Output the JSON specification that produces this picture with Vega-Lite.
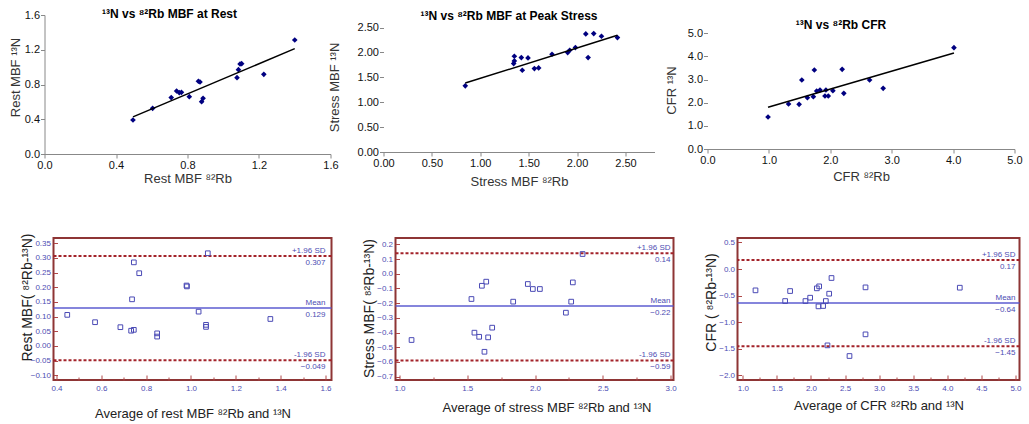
{
  "$schema": "https://vega.github.io/schema/vega-lite/v6.json",
  "background": "white",
  "padding": {"left": 8.5, "top": 8, "right": 5, "bottom": 5},
  "spacing": 223,
  "bounds": "flush",
  "config": {
    "font": "Liberation Sans",
    "view": {"stroke": null},
    "axis": {"grid": false, "labelFlush": false, "labelOverlap": false, "tickCount": 40, "labelFont": "Liberation Sans", "titleFont": "Liberation Sans", "labelFontSize": 11, "titleFontSize": 13, "titleFontWeight": "normal", "labelColor": "#111111", "titleColor": "#333333", "domainColor": "#888888", "tickColor": "#888888", "tickSize": 4, "labelPadding": 1, "titlePadding": 2},
    "title": {"font": "Liberation Sans", "fontSize": 12, "fontWeight": "bold", "color": "#000000", "anchor": "middle"},
    "text": {"font": "Liberation Sans"}
  },
  "datasets": {
    "rest": [{"rb":0.495,"n":0.391},{"rb":0.605,"n":0.526},{"rb":0.709,"n":0.649},{"rb":0.739,"n":0.725},{"rb":0.754,"n":0.706},{"rb":0.766,"n":0.71},{"rb":0.81,"n":0.66},{"rb":0.861,"n":0.837},{"rb":0.87,"n":0.829},{"rb":0.879,"n":0.602},{"rb":0.887,"n":0.641},{"rb":1.077,"n":0.879},{"rb":1.085,"n":0.971},{"rb":1.094,"n":1.036},{"rb":1.103,"n":1.04},{"rb":1.227,"n":0.917},{"rb":1.4,"n":1.312}],
    "restFit": [{"rb":0.495,"n":0.427},{"rb":1.4,"n":1.213}],
    "stress": [{"rb":0.845,"n":1.33},{"rb":1.352,"n":1.924},{"rb":1.352,"n":1.83},{"rb":1.345,"n":1.776},{"rb":1.424,"n":1.897},{"rb":1.493,"n":1.89},{"rb":1.434,"n":1.642},{"rb":1.559,"n":1.676},{"rb":1.603,"n":1.689},{"rb":1.741,"n":1.964},{"rb":1.903,"n":1.997},{"rb":1.924,"n":2.044},{"rb":1.983,"n":2.098},{"rb":2.09,"n":2.373},{"rb":2.114,"n":1.897},{"rb":2.172,"n":2.379},{"rb":2.252,"n":2.326},{"rb":2.417,"n":2.299}],
    "stressFit": [{"rb":0.845,"n":1.385},{"rb":2.417,"n":2.345}],
    "cfr": [{"rb":0.986,"n":1.383},{"rb":1.32,"n":1.945},{"rb":1.492,"n":1.931},{"rb":1.536,"n":2.983},{"rb":1.627,"n":2.219},{"rb":1.724,"n":2.262},{"rb":1.74,"n":3.415},{"rb":1.778,"n":2.507},{"rb":1.832,"n":2.55},{"rb":1.913,"n":2.291},{"rb":1.929,"n":2.55},{"rb":1.967,"n":2.291},{"rb":2.042,"n":2.522},{"rb":2.193,"n":3.444},{"rb":2.22,"n":2.406},{"rb":2.64,"n":2.983},{"rb":2.861,"n":2.622},{"rb":4.014,"n":4.38}],
    "cfrFit": [{"rb":0.986,"n":1.802},{"rb":4.014,"n":4.151}],
    "restBA": [{"avg":0.448,"diff":0.106},{"avg":0.572,"diff":0.081},{"avg":0.685,"diff":0.064},{"avg":0.733,"diff":0.052},{"avg":0.745,"diff":0.055},{"avg":0.737,"diff":0.159},{"avg":0.745,"diff":0.285},{"avg":0.769,"diff":0.248},{"avg":0.849,"diff":0.043},{"avg":0.849,"diff":0.032},{"avg":0.98,"diff":0.206},{"avg":0.982,"diff":0.203},{"avg":1.034,"diff":0.117},{"avg":1.067,"diff":0.072},{"avg":1.067,"diff":0.065},{"avg":1.075,"diff":0.316},{"avg":1.354,"diff":0.092}],
    "stressBA": [{"avg":1.089,"diff":-0.451},{"avg":1.531,"diff":-0.172},{"avg":1.553,"diff":-0.401},{"avg":1.588,"diff":-0.429},{"avg":1.608,"diff":-0.082},{"avg":1.627,"diff":-0.531},{"avg":1.64,"diff":-0.054},{"avg":1.654,"diff":-0.433},{"avg":1.684,"diff":-0.367},{"avg":1.839,"diff":-0.19},{"avg":1.947,"diff":-0.07},{"avg":1.984,"diff":-0.104},{"avg":2.036,"diff":-0.104},{"avg":2.228,"diff":-0.265},{"avg":2.267,"diff":-0.19},{"avg":2.279,"diff":-0.059},{"avg":2.351,"diff":0.134}],
    "cfrBA": [{"avg":1.186,"diff":-0.401},{"avg":1.621,"diff":-0.602},{"avg":1.694,"diff":-0.414},{"avg":1.919,"diff":-0.602},{"avg":1.988,"diff":-0.539},{"avg":2.086,"diff":-0.363},{"avg":2.12,"diff":-0.326},{"avg":2.11,"diff":-0.702},{"avg":2.178,"diff":-0.695},{"avg":2.218,"diff":-0.602},{"avg":2.267,"diff":-0.464},{"avg":2.301,"diff":-0.169},{"avg":2.242,"diff":-1.435},{"avg":2.565,"diff":-1.635},{"avg":2.8,"diff":-0.345},{"avg":2.8,"diff":-1.228},{"avg":4.183,"diff":-0.351}],
    "restStats": [{"stat":"+1.96 SD","value":0.307},{"stat":"Mean","value":0.129},{"stat":"-1.96 SD","value":-0.049}],
    "stressStats": [{"stat":"+1.96 SD","value":0.14},{"stat":"Mean","value":-0.22},{"stat":"-1.96 SD","value":-0.59}],
    "cfrStats": [{"stat":"+1.96 SD","value":0.17},{"stat":"Mean","value":-0.64},{"stat":"-1.96 SD","value":-1.45}]
  },
  "vconcat": [
    {
      "hconcat": [
        {
          "width": 277, "height": 139,
          "title": {"text": "¹³N vs ⁸²Rb MBF at Rest", "dx": -22.5, "offset": -12},
          "layer": [
            {"data": {"name": "rest"}, "mark": {"type": "point", "shape": "diamond", "filled": true, "color": "#000080", "size": 32, "opacity": 1},
             "encoding": {
               "x": {"field": "rb", "type": "quantitative", "scale": {"domain": [0, 1.6], "range": [-9, 277], "nice": false, "zero": false}, "axis": {"title": "Rest MBF ⁸²Rb", "values": [0, 0.4, 0.8, 1.2, 1.6], "format": ".1f", "tickCount": 40, "labelOverlap": false, "titlePadding": 2, "titleX": 134}},
               "y": {"field": "n", "type": "quantitative", "scale": {"domain": [0, 1.6], "nice": false, "zero": false}, "axis": {"title": "Rest MBF ¹³N", "values": [0, 0.4, 0.8, 1.2, 1.6], "format": ".1f", "tickCount": 40, "labelOverlap": false, "offset": 9, "titleX": -22.5, "titleY": 62}}}},
            {"data": {"name": "restFit"}, "mark": {"type": "line", "color": "#000000", "strokeWidth": 1.5},
             "encoding": {"x": {"field": "rb", "type": "quantitative"}, "y": {"field": "n", "type": "quantitative"}}},
            {"mark": {"type": "text", "text": "y = 0.8677x - 0.0021", "fontSize": 10, "color": "#404040"}, "encoding": {"x": {"datum": 0.537}, "y": {"datum": 1.347}}},
            {"mark": {"type": "text", "text": "R² = 0.8426", "fontSize": 10, "color": "#404040"}, "encoding": {"x": {"datum": 0.54}, "y": {"datum": 1.163}}}
          ]
        },
        {
          "width": 271, "height": 137,
          "title": {"text": "¹³N vs ⁸²Rb MBF at Peak Stress", "dx": -10, "offset": -8},
          "layer": [
            {"data": {"name": "stress"}, "mark": {"type": "point", "shape": "diamond", "filled": true, "color": "#000080", "size": 32, "opacity": 1},
             "encoding": {
               "x": {"field": "rb", "type": "quantitative", "scale": {"domain": [0, 2.8], "nice": false, "zero": false}, "axis": {"title": "Stress MBF ⁸²Rb", "values": [0, 0.5, 1, 1.5, 2, 2.5], "format": ".2f", "tickCount": 40, "labelOverlap": false, "titlePadding": 7}},
               "y": {"field": "n", "type": "quantitative", "scale": {"domain": [0, 2.753], "nice": false, "zero": false}, "axis": {"title": "Stress MBF ¹³N", "values": [0, 0.5, 1, 1.5, 2, 2.5], "format": ".2f", "tickCount": 40, "labelOverlap": false, "domain": false, "titleX": -42, "titleY": 72}}}},
            {"mark": {"type": "rule", "color": "#888888", "strokeWidth": 1}, "encoding": {"x": {"datum": 0}, "y": {"datum": 0}, "y2": {"datum": 2.5}}},
            {"data": {"name": "stressFit"}, "mark": {"type": "line", "color": "#000000", "strokeWidth": 1.5},
             "encoding": {"x": {"field": "rb", "type": "quantitative"}, "y": {"field": "n", "type": "quantitative"}}},
            {"mark": {"type": "text", "text": "y = 0.6105x + 0.8689", "fontSize": 10, "color": "#404040"}, "encoding": {"x": {"datum": 2.135}, "y": {"datum": 0.892}}},
            {"mark": {"type": "text", "text": "R² = 0.7606", "fontSize": 10, "color": "#404040"}, "encoding": {"x": {"datum": 2.143}, "y": {"datum": 0.516}}}
          ]
        },
        {
          "width": 307, "height": 134,
          "title": {"text": "¹³N vs ⁸²Rb CFR", "dx": -20, "offset": -17},
          "layer": [
            {"data": {"name": "cfr"}, "mark": {"type": "point", "shape": "diamond", "filled": true, "color": "#000080", "size": 32, "opacity": 1},
             "encoding": {
               "x": {"field": "rb", "type": "quantitative", "scale": {"domain": [0, 5], "nice": false, "zero": false}, "axis": {"title": "CFR ⁸²Rb", "values": [0, 1, 2, 3, 4, 5], "format": ".1f", "tickCount": 40, "labelOverlap": false, "titlePadding": 5}},
               "y": {"field": "n", "type": "quantitative", "scale": {"domain": [0, 5.791], "nice": false, "zero": false}, "axis": {"title": "CFR ¹³N", "values": [0, 1, 2, 3, 4, 5], "format": ".1f", "tickCount": 40, "labelOverlap": false, "domain": false, "titleX": -29, "titleY": 75}}}},
            {"mark": {"type": "rule", "color": "#888888", "strokeWidth": 1}, "encoding": {"x": {"datum": 0}, "y": {"datum": 0}, "y2": {"datum": 5}}},
            {"data": {"name": "cfrFit"}, "mark": {"type": "line", "color": "#000000", "strokeWidth": 1.5},
             "encoding": {"x": {"field": "rb", "type": "quantitative"}, "y": {"field": "n", "type": "quantitative"}}},
            {"mark": {"type": "text", "text": "y = 0.7756x + 1.0372", "fontSize": 10, "color": "#404040"}, "encoding": {"x": {"datum": 3.75}, "y": {"datum": 1.76}}},
            {"mark": {"type": "text", "text": "R² = 0.6001", "fontSize": 10, "color": "#404040"}, "encoding": {"x": {"datum": 3.75}, "y": {"datum": 1.08}}}
          ]
        }
      ],
      "spacing": 53,
      "bounds": "flush"
    },
    {
      "hconcat": [
        {
          "width": 278, "height": 142,
          "view": {"stroke": "#8e3535", "strokeWidth": 2},
          "layer": [
            {"data": {"name": "restStats"}, "transform": [{"filter": "datum.stat != 'Mean'"}], "mark": {"type": "rule", "color": "#a3232a", "strokeWidth": 2, "strokeDash": [3, 2]},
             "encoding": {"y": {"field": "value", "type": "quantitative"}}},
            {"data": {"name": "restStats"}, "transform": [{"filter": "datum.stat == 'Mean'"}], "mark": {"type": "rule", "color": "#5c5cd0", "strokeWidth": 1.5},
             "encoding": {"y": {"field": "value", "type": "quantitative"}}},
            {"data": {"name": "restBA"}, "mark": {"type": "point", "shape": "square", "filled": false, "color": "#4a4ab5", "size": 22, "strokeWidth": 1, "opacity": 1},
             "encoding": {
               "x": {"field": "avg", "type": "quantitative", "scale": {"domain": [0.3866, 1.6268], "nice": false, "zero": false},
                     "axis": {"title": "Average of rest MBF ⁸²Rb and ¹³N", "values": [0.4, 0.5, 0.6, 0.7, 0.8, 0.9, 1.0, 1.1, 1.2, 1.3, 1.4, 1.5, 1.6], "format": ".1f", "tickCount": 40, "labelOverlap": false,
                              "labelExpr": "abs(datum.value*5 - round(datum.value*5)) < 0.01 ? datum.label : ''",
                              "domain": false, "tickSize": {"condition": {"test": "abs(datum.value*5 - round(datum.value*5)) < 0.01", "value": -5}, "value": -3},
                              "labelPadding": 9, "labelFontSize": 8, "labelColor": "#4d4db3", "tickColor": "#b04848", "titleFontSize": 13, "titleColor": "#222222", "titlePadding": 13, "titleX": 139}},
               "y": {"field": "diff", "type": "quantitative", "scale": {"domain": [-0.116, 0.368], "nice": false, "zero": false},
                     "axis": {"title": "Rest MBF( ⁸²Rb-¹³N)", "values": [-0.1, -0.05, 0, 0.05, 0.1, 0.15, 0.2, 0.25, 0.3, 0.35], "format": ".2f", "tickCount": 40, "labelOverlap": false,
                              "domain": false, "tickSize": -4, "labelPadding": 7, "labelFontSize": 8, "labelColor": "#4d4db3", "tickColor": "#b04848", "titleFontSize": 14, "titleColor": "#222222", "titleX": -19, "titleY": 59}}}},
            {"data": {"name": "restStats"}, "mark": {"type": "text", "align": "right", "baseline": "bottom", "dy": -1, "fontSize": 8, "color": "#4d4db3"},
             "encoding": {"x": {"datum": 1.6}, "y": {"field": "value", "type": "quantitative"}, "text": {"field": "stat"}}},
            {"data": {"name": "restStats"}, "mark": {"type": "text", "align": "right", "baseline": "top", "dy": 3, "fontSize": 8, "color": "#4d4db3"},
             "encoding": {"x": {"datum": 1.6}, "y": {"field": "value", "type": "quantitative"}, "text": {"field": "value", "type": "quantitative", "format": ".3f"}}}
          ]
        },
        {
          "width": 278, "height": 142,
          "view": {"stroke": "#8e3535", "strokeWidth": 2},
          "layer": [
            {"data": {"name": "stressStats"}, "transform": [{"filter": "datum.stat != 'Mean'"}], "mark": {"type": "rule", "color": "#a3232a", "strokeWidth": 2, "strokeDash": [3, 2]},
             "encoding": {"y": {"field": "value", "type": "quantitative"}}},
            {"data": {"name": "stressStats"}, "transform": [{"filter": "datum.stat == 'Mean'"}], "mark": {"type": "rule", "color": "#5c5cd0", "strokeWidth": 1.5},
             "encoding": {"y": {"field": "value", "type": "quantitative"}}},
            {"data": {"name": "stressBA"}, "mark": {"type": "point", "shape": "square", "filled": false, "color": "#4a4ab5", "size": 22, "strokeWidth": 1, "opacity": 1},
             "encoding": {
               "x": {"field": "avg", "type": "quantitative", "scale": {"domain": [0.9705, 3.022], "nice": false, "zero": false},
                     "axis": {"title": "Average of stress MBF ⁸²Rb and ¹³N", "values": [1.0, 1.25, 1.5, 1.75, 2.0, 2.25, 2.5, 2.75, 3.0], "format": ".1f", "tickCount": 40, "labelOverlap": false,
                              "labelExpr": "abs(datum.value*2 - round(datum.value*2)) < 0.01 ? datum.label : ''",
                              "domain": false, "tickSize": {"condition": {"test": "abs(datum.value*2 - round(datum.value*2)) < 0.01", "value": -5}, "value": -3},
                              "labelPadding": 9, "labelFontSize": 8, "labelColor": "#4d4db3", "tickColor": "#b04848", "titleFontSize": 13, "titleColor": "#222222", "titlePadding": 7, "titleX": 151}},
               "y": {"field": "diff", "type": "quantitative", "scale": {"domain": [-0.723, 0.243], "nice": false, "zero": false},
                     "axis": {"title": "Stress MBF( ⁸²Rb-¹³N)", "values": [-0.7, -0.6, -0.5, -0.4, -0.3, -0.2, -0.1, 0, 0.1, 0.2], "format": ".1f", "tickCount": 40, "labelOverlap": false,
                              "domain": false, "tickSize": -4, "labelPadding": 7, "labelFontSize": 8, "labelColor": "#4d4db3", "tickColor": "#b04848", "titleFontSize": 14, "titleColor": "#222222", "titleX": -19, "titleY": 70}}}},
            {"data": {"name": "stressStats"}, "mark": {"type": "text", "align": "right", "baseline": "bottom", "dy": -1, "fontSize": 8, "color": "#4d4db3"},
             "encoding": {"x": {"datum": 3.0}, "y": {"field": "value", "type": "quantitative"}, "text": {"field": "stat"}}},
            {"data": {"name": "stressStats"}, "mark": {"type": "text", "align": "right", "baseline": "top", "dy": 3, "fontSize": 8, "color": "#4d4db3"},
             "encoding": {"x": {"datum": 3.0}, "y": {"field": "value", "type": "quantitative"}, "text": {"field": "value", "type": "quantitative", "format": ".2f"}}}
          ]
        },
        {
          "width": 282, "height": 142,
          "view": {"stroke": "#8e3535", "strokeWidth": 2},
          "layer": [
            {"data": {"name": "cfrStats"}, "transform": [{"filter": "datum.stat != 'Mean'"}], "mark": {"type": "rule", "color": "#a3232a", "strokeWidth": 2, "strokeDash": [3, 2]},
             "encoding": {"y": {"field": "value", "type": "quantitative"}}},
            {"data": {"name": "cfrStats"}, "transform": [{"filter": "datum.stat == 'Mean'"}], "mark": {"type": "rule", "color": "#5c5cd0", "strokeWidth": 1.5},
             "encoding": {"y": {"field": "value", "type": "quantitative"}}},
            {"data": {"name": "cfrBA"}, "mark": {"type": "point", "shape": "square", "filled": false, "color": "#4a4ab5", "size": 22, "strokeWidth": 1, "opacity": 1},
             "encoding": {
               "x": {"field": "avg", "type": "quantitative", "scale": {"domain": [0.922, 5.059], "nice": false, "zero": false},
                     "axis": {"title": "Average of CFR ⁸²Rb and ¹³N", "values": [1.0, 1.25, 1.5, 1.75, 2.0, 2.25, 2.5, 2.75, 3.0, 3.25, 3.5, 3.75, 4.0, 4.25, 4.5, 4.75, 5.0], "format": ".1f", "tickCount": 40, "labelOverlap": false,
                              "labelExpr": "abs(datum.value*2 - round(datum.value*2)) < 0.01 ? datum.label : ''",
                              "domain": false, "tickSize": {"condition": {"test": "abs(datum.value*2 - round(datum.value*2)) < 0.01", "value": -5}, "value": -3},
                              "labelPadding": 9, "labelFontSize": 8, "labelColor": "#4d4db3", "tickColor": "#b04848", "titleFontSize": 13, "titleColor": "#222222", "titlePadding": 5}},
               "y": {"field": "diff", "type": "quantitative", "scale": {"domain": [-2.086, 0.583], "nice": false, "zero": false},
                     "axis": {"title": "CFR ( ⁸²Rb-¹³N)", "values": [-2.0, -1.5, -1.0, -0.5, 0, 0.5], "format": ".1f", "tickCount": 40, "labelOverlap": false,
                              "domain": false, "tickSize": -4, "labelPadding": 7, "labelFontSize": 8, "labelColor": "#4d4db3", "tickColor": "#b04848", "titleFontSize": 14, "titleColor": "#222222", "titleX": -19, "titleY": 64}}}},
            {"data": {"name": "cfrStats"}, "mark": {"type": "text", "align": "right", "baseline": "bottom", "dy": -1, "fontSize": 8, "color": "#4d4db3"},
             "encoding": {"x": {"datum": 5.0}, "y": {"field": "value", "type": "quantitative"}, "text": {"field": "stat"}}},
            {"data": {"name": "cfrStats"}, "mark": {"type": "text", "align": "right", "baseline": "top", "dy": 3, "fontSize": 8, "color": "#4d4db3"},
             "encoding": {"x": {"datum": 5.0}, "y": {"field": "value", "type": "quantitative"}, "text": {"field": "value", "type": "quantitative", "format": ".2f"}}}
          ]
        }
      ],
      "spacing": 64,
      "bounds": "flush"
    }
  ]
}
